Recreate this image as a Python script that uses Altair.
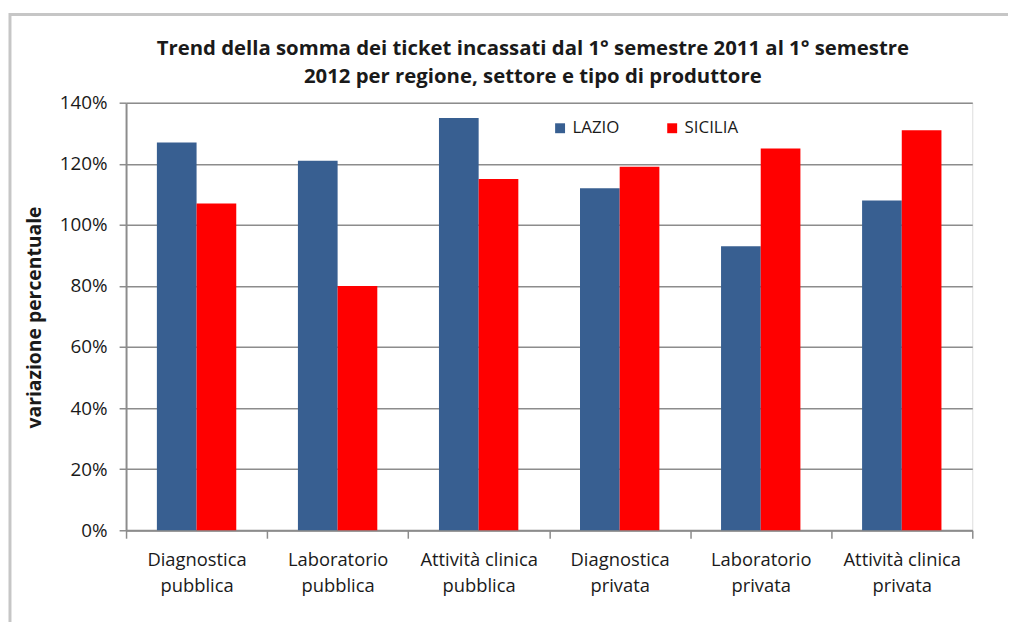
import altair as alt
import pandas as pd

categories = ["Diagnostica|pubblica", "Laboratorio|pubblica", "Attività clinica|pubblica",
              "Diagnostica|privata", "Laboratorio|privata", "Attività clinica|privata"]
series = ["LAZIO", "SICILIA"]
lazio = [127, 121, 135, 112, 93, 108]
sicilia = [107, 80, 115, 119, 125, 131]
y_ticks = [0, 20, 40, 60, 80, 100, 120, 140]
title_lines = ["Trend della somma dei ticket incassati dal 1° semestre 2011 al 1° semestre",
               "2012 per regione, settore e tipo di produttore"]

rows = []
for c, a, b in zip(categories, lazio, sicilia):
    rows.append({"cat": c, "serie": "LAZIO", "val": a})
    rows.append({"cat": c, "serie": "SICILIA", "val": b})
df = pd.DataFrame(rows)

FONT = "Open Sans"
TXT = "#1a1a1a"
GRID = "#8c8c8c"

bars = alt.Chart(df).mark_bar().encode(
    x=alt.X("cat:N", sort=categories,
            scale=alt.Scale(paddingInner=0, paddingOuter=0),
            axis=alt.Axis(title=None, labelAngle=0, tickBand="extent",
                          labelExpr="split(datum.label, '|')",
                          labelFontSize=18.5, labelColor=TXT, labelPadding=13,
                          labelLineHeight=26, labelFont=FONT,
                          tickSize=8, tickColor=GRID, domainColor=GRID,
                          domainWidth=2, tickWidth=1.5, grid=False)),
    xOffset=alt.XOffset("serie:N", sort=series,
                        scale=alt.Scale(paddingInner=0, paddingOuter=0.777)),
    y=alt.Y("val:Q", scale=alt.Scale(domain=[0, 140], nice=False),
            axis=alt.Axis(values=y_ticks, labelExpr="datum.value + '%'",
                          title="variazione percentuale", titleFontSize=19.5,
                          titleFontWeight="bold", titleColor=TXT, titleFont=FONT,
                          titleX=-92, titleY=216, titleAngle=270,
                          titleAlign="center", titleBaseline="middle",
                          labelFontSize=19, labelColor=TXT,
                          labelFont=FONT, labelPadding=12,
                          tickSize=7, tickColor=GRID, tickWidth=1.5, domainColor=GRID,
                          domainWidth=2, gridColor=GRID, gridWidth=1.6)),
    color=alt.Color("serie:N", sort=series,
                    scale=alt.Scale(domain=series, range=["#385F91", "#FF0000"]),
                    legend=alt.Legend(title=None, orient="none", legendX=429, legendY=17,
                                      direction="horizontal", symbolType="square",
                                      symbolSize=100, symbolStrokeWidth=0,
                                      labelFontSize=17, labelFont=FONT, labelColor=TXT,
                                      columnPadding=44, labelOffset=4)),
)

frame = alt.Chart(pd.DataFrame({"k": [0]})).mark_rect(
    fillOpacity=0, stroke="#c6c6c6", strokeWidth=3
).encode(x=alt.value(-117), x2=alt.value(920), y=alt.value(-89), y2=alt.value(560))

title = alt.Chart(pd.DataFrame({"k": [0]})).mark_text(
    font=FONT, fontSize=20.5, fontWeight="bold", color=TXT,
    align="center", baseline="middle", lineHeight=28
).encode(x=alt.value(410), y=alt.value(-54), text=alt.value(title_lines))

chart = alt.layer(frame, bars, title).properties(
    width=853, height=431,
    padding={"left": 119, "top": 93, "right": 36, "bottom": 90},
    autosize=alt.AutoSizeParams(type="none"),
).configure_view(stroke=None).configure(background="white")

chart.save("out.html", embed_options={"renderer": "svg", "actions": False})
